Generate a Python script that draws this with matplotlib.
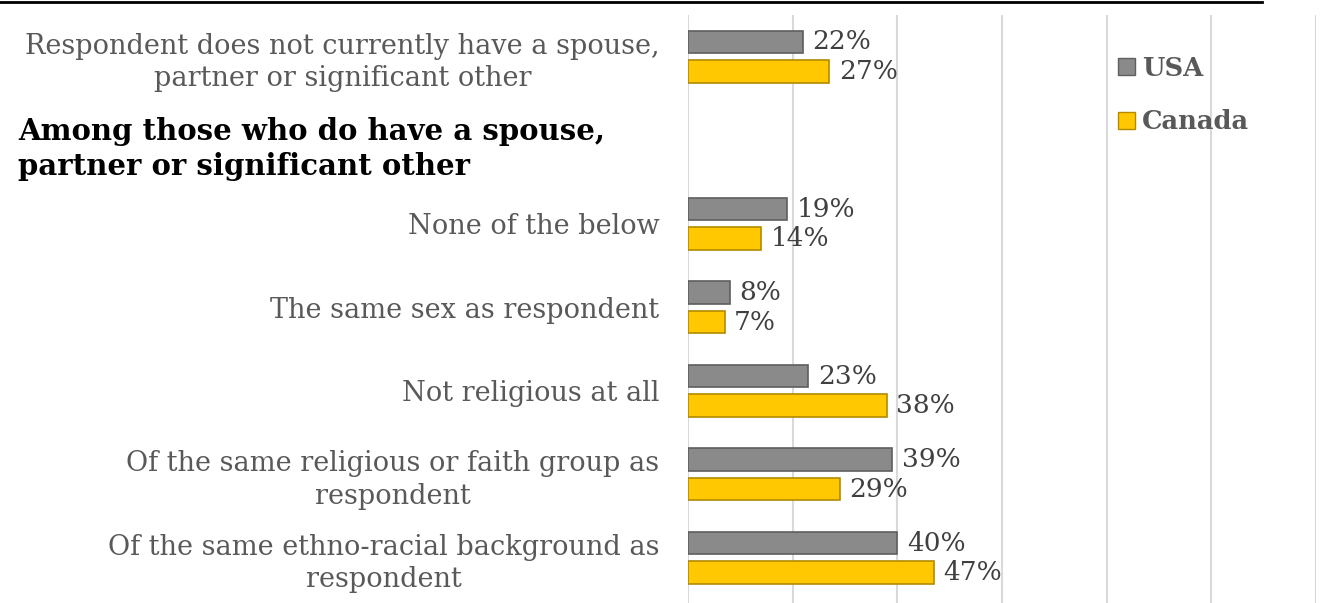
import matplotlib.pyplot as plt
import matplotlib.transforms as mtransforms
from matplotlib.lines import Line2D
import numpy as np

# Chart data
categories = [
    "Respondent does not currently have a spouse,\npartner or significant other",
    "Among those who do have a spouse,\npartner or significant other",
    "None of the below",
    "The same sex as respondent",
    "Not religious at all",
    "Of the same religious or faith group as\nrespondent",
    "Of the same ethno-racial background as\nrespondent",
]
header_index = 1
usa = [22, None, 19, 8, 23, 39, 40]
canada = [27, None, 14, 7, 38, 29, 47]

plt.rcParams['font.family'] = ['DejaVu Serif']

W, H = 1321, 603
fig = plt.figure(figsize=(W / 100, H / 100), dpi=100)
ax = fig.add_axes([688 / W, 0, 628 / W, (H - 15) / H])

y = np.arange(len(categories))
off = 0.177
bh = 0.27
usa_color, usa_edge = '#8a8a8a', '#5e5e5e'
can_color, can_edge = '#FFC800', '#b38a00'

for i, (u, c) in enumerate(zip(usa, canada)):
    if u is None:
        continue
    ax.barh(y[i] - off, u, height=bh, color=usa_color, edgecolor=usa_edge, linewidth=1.2, zorder=3)
    ax.barh(y[i] + off, c, height=bh, color=can_color, edgecolor=can_edge, linewidth=1.2, zorder=3)
    ax.text(u + 1.8, y[i] - off, f"{u}%", va='center', ha='left', fontsize=19, color='#404040')
    ax.text(c + 1.8, y[i] + off, f"{c}%", va='center', ha='left', fontsize=19, color='#404040')

ax.set_xlim(0, 120)
ax.set_ylim(len(categories) - 0.46, -0.5)
ax.set_xticks(np.arange(0, 121, 20))
ax.xaxis.grid(True, color='#d9d9d9', linewidth=1.5, zorder=0)
ax.tick_params(axis='x', bottom=False, labelbottom=False)
ax.tick_params(axis='y', left=False, pad=17)
for s in ax.spines.values():
    s.set_visible(False)

ax.set_yticks(y)
ax.set_yticklabels([c if i != header_index else "" for i, c in enumerate(categories)],
                   fontsize=19.5, color='#595959', multialignment='center', linespacing=1.25)

trans = mtransforms.blended_transform_factory(fig.transFigure, ax.transData)
ax.text(18 / W, y[header_index] + 0.1, categories[header_index], transform=trans,
        ha='left', va='center', fontsize=21, fontweight='bold', color='black',
        linespacing=1.25)

# legend
handles = [plt.Rectangle((0, 0), 1, 1, facecolor=usa_color, edgecolor=usa_edge),
           plt.Rectangle((0, 0), 1, 1, facecolor=can_color, edgecolor=can_edge)]
fig.legend(handles, ['USA', 'Canada'], loc='upper left',
           bbox_to_anchor=(1105 / W, 1 - 43 / H), frameon=False,
           handlelength=0.65, handleheight=0.65, handletextpad=0.3,
           labelspacing=1.1, borderpad=0,
           prop={'weight': 'bold', 'size': 18.5}, labelcolor='#595959')

fig.add_artist(Line2D([0, 1262 / W], [1 - 1.5 / H, 1 - 1.5 / H], color='black', linewidth=2))

fig.savefig('out.png', dpi=100)
